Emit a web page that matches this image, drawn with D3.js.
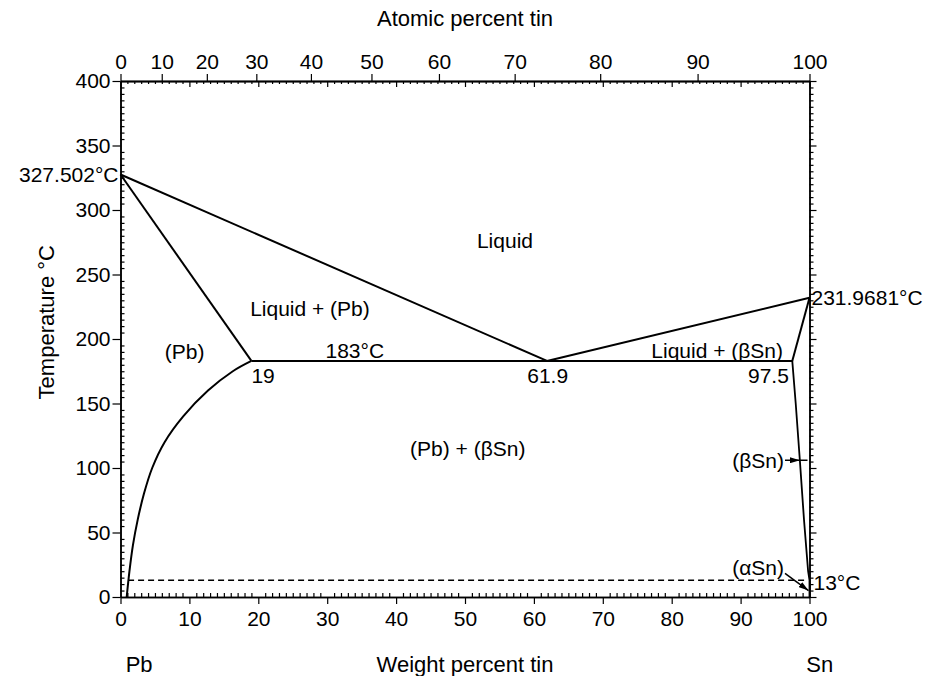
<!DOCTYPE html>
<html><head><meta charset="utf-8">
<script src="https://cdn.jsdelivr.net/npm/d3@7"></script>
<style>
body{margin:0;background:#fff}
svg text{font-family:"Liberation Sans",Arial,Helvetica,sans-serif;fill:#000}
</style>
</head><body>
<svg id="chart" width="934" height="676"></svg>
<script>
// ---------- data ----------
const weightTicks = [0,10,20,30,40,50,60,70,80,90,100];
const atomicTicks = [0,10,20,30,40,50,60,70,80,90,100];
const tempTicks = [0,50,100,150,200,250,300,350,400];
const SN_MASS = 118.71, PB_MASS = 207.2;

const liquidusPb = [[0,327.502],[61.9,183]];
const solidusPb  = [[0,327.502],[19,183]];
const eutectic   = [[19,183],[97.5,183]];
const liquidusSn = [[61.9,183],[100,231.9681]];
const solidusSn  = [[97.5,183],[100,231.9681]];
const solvusPb   = [[19,183],[16.3,175],[12.7,160],[9.1,140],[6.4,120],[4.6,100],[3.4,80],[2.5,60],[1.8,40],[1.3,20],[0.9,0]];
const solvusSn   = [[97.5,183],[98.0,150],[98.6,106],[99.2,60],[99.8,20],[100,13],[100,0]];
const alphaLine  = [[1.1,13],[99.7,13]];

const regionLabels = [
  {t:"Liquid", x:55.8, y:276},
  {t:"Liquid + (Pb)", x:27.5, y:224},
  {t:"(Pb)", x:9.3, y:190},
  {t:"183°C", x:34, y:191},
  {t:"Liquid + (βSn)", x:86.6, y:191},
  {t:"(Pb) + (βSn)", x:50.4, y:115}
];
const pointLabels = [
  {t:"19", x:19, y:172, a:"start"},
  {t:"61.9", x:62, y:172, a:"middle"},
  {t:"97.5", x:97, y:172, a:"end"}
];

// ---------- layout ----------
const svg = d3.select("#chart");
const L = 120.5, R = 809.5, T = 81, B = 597;
const FS = 21;
const x = d3.scaleLinear().domain([0,100]).range([L,R]);
const y = d3.scaleLinear().domain([0,400]).range([B,T]);
const toWt = a => 100*a*SN_MASS/(a*SN_MASS + (100-a)*PB_MASS);
const xa = d3.scaleLinear().domain(atomicTicks).range(atomicTicks.map(a => x(toWt(a))));

const minorW = d3.range(0,101,1).filter(v => v%10 !== 0);
const minorT = d3.range(0,401,5).filter(v => v%50 !== 0);

function styleAxis(g){
  g.selectAll("path.domain").attr("stroke","#000").attr("stroke-width",1.5);
  g.selectAll(".tick line").attr("stroke","#000").attr("stroke-width",1.2);
  g.selectAll("text").attr("font-size",FS).attr("font-family",'"Liberation Sans",Arial,sans-serif').attr("fill","#000");
}

// bottom
let g = svg.append("g").attr("transform",`translate(0,${B})`)
  .call(d3.axisBottom(x).tickValues(weightTicks).tickSize(7).tickPadding(7).tickSizeOuter(0));
styleAxis(g);
g = svg.append("g").attr("transform",`translate(0,${B})`)
  .call(d3.axisBottom(x).tickValues(minorW).tickSize(-4).tickFormat("").tickSizeOuter(0));
styleAxis(g);

// top
g = svg.append("g").attr("transform",`translate(0,${T})`)
  .call(d3.axisTop(xa).tickValues(atomicTicks).tickSize(7).tickPadding(5).tickSizeOuter(0));
styleAxis(g);
g = svg.append("g").attr("transform",`translate(0,${T})`)
  .call(d3.axisTop(x).tickValues(weightTicks).tickSize(-6).tickFormat("").tickSizeOuter(0));
styleAxis(g);
g = svg.append("g").attr("transform",`translate(0,${T})`)
  .call(d3.axisTop(x).tickValues(minorW).tickSize(-3).tickFormat("").tickSizeOuter(0));
styleAxis(g);

// left
g = svg.append("g").attr("transform",`translate(${L},0)`)
  .call(d3.axisLeft(y).tickValues(tempTicks).tickSize(8).tickPadding(2).tickSizeOuter(0));
styleAxis(g);
g = svg.append("g").attr("transform",`translate(${L},0)`)
  .call(d3.axisLeft(y).tickValues(minorT).tickSize(-4).tickFormat("").tickSizeOuter(0));
styleAxis(g);

// right
g = svg.append("g").attr("transform",`translate(${R},0)`)
  .call(d3.axisRight(y).tickValues(tempTicks).tickSize(7).tickFormat("").tickSizeOuter(0));
styleAxis(g);
g = svg.append("g").attr("transform",`translate(${R},0)`)
  .call(d3.axisRight(y).tickValues(minorT).tickSize(4).tickFormat("").tickSizeOuter(0));
styleAxis(g);

// ---------- phase lines ----------
const line = d3.line().x(d => x(d[0])).y(d => y(d[1]));
const curve = d3.line().x(d => x(d[0])).y(d => y(d[1])).curve(d3.curveCatmullRom.alpha(0.5));
const plot = svg.append("g").attr("fill","none").attr("stroke","#000").attr("stroke-width",2);
[liquidusPb, solidusPb, eutectic, liquidusSn, solidusSn].forEach(d => plot.append("path").attr("d", line(d)));
plot.append("path").attr("d", curve(solvusPb));
plot.append("path").attr("d", line(solvusSn)).attr("stroke-width",1.8);
plot.append("path").attr("d", line(alphaLine)).attr("stroke-width",1.6).attr("stroke-dasharray","6,4");

// ---------- text ----------
const txt = (s, px, py, anchor, fs) => svg.append("text").attr("x",px).attr("y",py)
  .attr("text-anchor",anchor||"middle").attr("dominant-baseline","central").attr("font-size",fs||FS).text(s);

regionLabels.forEach(d => txt(d.t, x(d.x), y(d.y), "middle"));
pointLabels.forEach(d => txt(d.t, x(d.x), y(d.y), d.a));

txt("327.502°C", x(0)-2, y(327.502), "end");
txt("231.9681°C", x(100)+2, y(231.9681), "start");
txt("13°C", x(100)+4, y(13)+2, "start");

// arrows
const defs = svg.append("defs");
defs.append("marker").attr("id","ah").attr("viewBox","0 0 10 6").attr("refX",10).attr("refY",3)
  .attr("markerWidth",10).attr("markerHeight",6).attr("orient","auto").attr("markerUnits","userSpaceOnUse")
  .append("path").attr("d","M0,0L10,3L0,6Z").attr("fill","#000");

const bx = 785;
txt("(βSn)", bx-1, y(106), "end");
svg.append("line").attr("x1",bx).attr("y1",y(106)).attr("x2",x(98.6)).attr("y2",y(106))
  .attr("stroke","#000").attr("stroke-width",1.5).attr("marker-end","url(#ah)");
svg.append("line").attr("x1",x(98.6)).attr("y1",y(106)).attr("x2",x(100)-2).attr("y2",y(106))
  .attr("stroke","#000").attr("stroke-width",1.5);

txt("(αSn)", bx-1, y(23), "end");
svg.append("line").attr("x1",bx).attr("y1",y(23)+6).attr("x2",x(100)-1).attr("y2",y(5))
  .attr("stroke","#000").attr("stroke-width",1.5).attr("marker-end","url(#ah)");

// axis titles
txt("Atomic percent tin", (L+R)/2, 18, "middle", 22);
txt("Weight percent tin", (L+R)/2, 664, "middle", 22);
txt("Pb", x(2.7), 664, "middle", 22);
txt("Sn", x(101.5), 664, "middle", 22);
svg.append("text").attr("transform",`translate(46,${y(213)}) rotate(-90)`)
  .attr("text-anchor","middle").attr("dominant-baseline","central").attr("font-size",22).text("Temperature °C");
</script>
</body></html>
